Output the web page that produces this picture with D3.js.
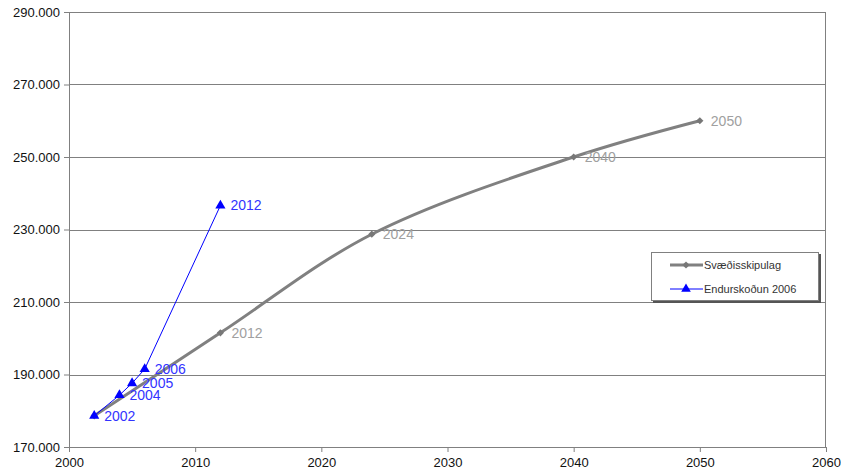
<!DOCTYPE html>
<meta charset="utf-8">
<style>
body { margin: 0; background: #fff; }
text { font-family: Arial, "Liberation Sans", sans-serif; }
.axis .domain { display: none; }
.axis text { font-size: 13px; fill: #111; }
.axis line { stroke: #808080; }
</style>
<svg width="841" height="475"></svg>
<script src="https://d3js.org/d3.v7.min.js"></script>
<script>
// Svæðisskipulag (gray, smoothed)
var svYears = [2002, 2012, 2024, 2040, 2050];
var svValues = [178600, 201500, 228700, 250000, 260000];
var svLabels = ["", "2012", "2024", "2040", "2050"];
// Endurskoðun 2006 (blue)
var enYears = [2002, 2004, 2005, 2006, 2012];
var enValues = [178600, 184300, 187600, 191500, 236600];
var yTicks = [170000, 190000, 210000, 230000, 250000, 270000, 290000];
var xTicks = [2000, 2010, 2020, 2030, 2040, 2050, 2060];
var seriesNames = ["Svæðisskipulag", "Endurskoðun 2006"];

var svg = d3.select("svg"),
    margin = {top: 12, right: 15, bottom: 28, left: 69},
    width = +svg.attr("width") - margin.left - margin.right,
    height = +svg.attr("height") - margin.top - margin.bottom,
    g = svg.append("g").attr("transform", "translate(" + margin.left + "," + margin.top + ")");

var x = d3.scaleLinear().domain([2000, 2060]).range([0, width]);
var y = d3.scaleLinear().domain([170000, 290000]).range([height, 0]);

var fmt = function(d) { return d3.format(",.3f")(d / 1000).replace(",", "."); };

// grid
g.append("g").selectAll("line").data(yTicks).enter().append("line")
  .attr("x1", 0).attr("x2", width)
  .attr("y1", function(d) { return Math.round(y(d)) + 0.5; })
  .attr("y2", function(d) { return Math.round(y(d)) + 0.5; })
  .attr("stroke", "#808080").attr("stroke-width", 1);

// frame left/right
g.append("line").attr("x1", 0.5).attr("x2", 0.5).attr("y1", 0).attr("y2", height + 4)
  .attr("stroke", "#808080");
g.append("line").attr("x1", Math.round(width) - 0.5).attr("x2", Math.round(width) - 0.5)
  .attr("y1", 0).attr("y2", height).attr("stroke", "#808080");

g.append("g").attr("class", "axis")
  .call(d3.axisLeft(y).tickValues(yTicks).tickSize(5).tickPadding(4)
    .tickFormat(function(d) { return fmt(d); }));

g.append("g").attr("class", "axis")
  .attr("transform", "translate(0," + height + ")")
  .call(d3.axisBottom(x).tickValues(xTicks).tickSize(5).tickPadding(6).tickFormat(d3.format("d")));

// gray series
var sv = svYears.map(function(yr, i) { return {x: yr, v: svValues[i], label: svLabels[i]}; });
var en = enYears.map(function(yr, i) { return {x: yr, v: enValues[i]}; });

var diamond = d3.symbol().type(d3.symbolSquare).size(26);

var svLine = d3.line().curve(d3.curveCatmullRom.alpha(0.5))
  .x(function(d) { return x(d.x); }).y(function(d) { return y(d.v); });
g.append("path").attr("d", svLine(sv))
  .attr("fill", "none").attr("stroke", "#808080").attr("stroke-width", 3);
g.append("g").selectAll("path").data(sv).enter().append("path")
  .attr("d", diamond)
  .attr("transform", function(d) { return "translate(" + x(d.x) + "," + y(d.v) + ") rotate(45)"; })
  .attr("fill", "#777");
g.append("g").selectAll("text").data(sv).enter().append("text")
  .attr("x", function(d) { return x(d.x) + 11; })
  .attr("y", function(d) { return y(d.v); })
  .attr("dy", "0.35em")
  .attr("font-size", 14).attr("fill", "#a0a0a0")
  .text(function(d) { return d.label; });

// blue series
var enLine = d3.line().x(function(d) { return x(d.x); }).y(function(d) { return y(d.v); });
g.append("path").attr("d", enLine(en))
  .attr("fill", "none").attr("stroke", "#0000ff").attr("stroke-width", 1);
g.append("g").selectAll("path").data(en).enter().append("path")
  .attr("d", d3.symbol().type(d3.symbolTriangle).size(45))
  .attr("transform", function(d) { return "translate(" + x(d.x) + "," + y(d.v) + ")"; })
  .attr("fill", "#0000ff");
g.append("g").selectAll("text").data(en).enter().append("text")
  .attr("x", function(d) { return x(d.x) + 10; })
  .attr("y", function(d) { return y(d.v); })
  .attr("dy", "0.35em")
  .attr("font-size", 14).attr("fill", "#3333ff")
  .text(function(d) { return d.x; });

// legend
var lg = svg.append("g").attr("transform", "translate(651,252)");
lg.append("rect").attr("x", 2).attr("y", 2).attr("width", 168).attr("height", 49).attr("fill", "#555");
lg.append("rect").attr("x", 0.5).attr("y", 0.5).attr("width", 167).attr("height", 48)
  .attr("fill", "#fff").attr("stroke", "#808080");
var colors = ["#808080", "#0000ff"];
var widths = [3, 1];
seriesNames.forEach(function(name, i) {
  var yy = 13 + i * 24;
  lg.append("line").attr("x1", 19).attr("x2", 52).attr("y1", yy).attr("y2", yy)
    .attr("stroke", colors[i]).attr("stroke-width", widths[i]);
  lg.append("path")
    .attr("d", i === 0 ? diamond : d3.symbol().type(d3.symbolTriangle).size(40))
    .attr("transform", "translate(35," + yy + ")" + (i === 0 ? " rotate(45)" : ""))
    .attr("fill", i === 0 ? "#777" : colors[i]);
  lg.append("text").attr("x", 53).attr("y", yy).attr("dy", "0.35em")
    .attr("font-size", 11).attr("fill", "#333").text(name);
});
</script>
